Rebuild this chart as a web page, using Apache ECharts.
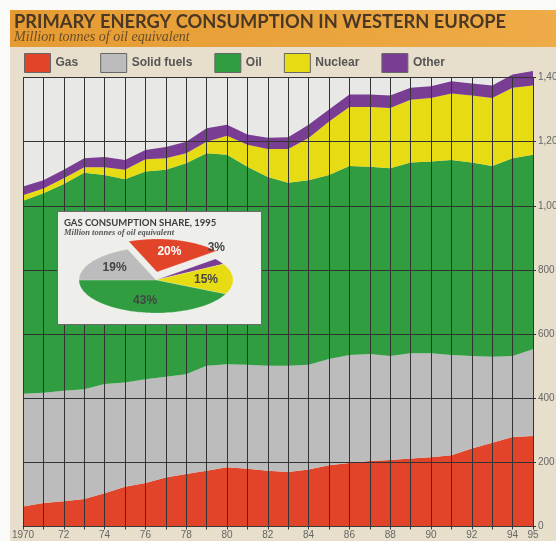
<!DOCTYPE html>
<html>
<head>
<meta charset="utf-8">
<script src="https://cdn.jsdelivr.net/npm/echarts/dist/echarts.min.js"></script>
<style>
  html, body { margin: 0; padding: 0; background: #fff; }
  #main { width: 556px; height: 541px; }
</style>
</head>
<body>
<div id="main"></div>
<script>
// years on the x axis
const years = [1970, 1971, 1972, 1973, 1974, 1975, 1976, 1977, 1978, 1979, 1980, 1981, 1982,
  1983, 1984, 1985, 1986, 1987, 1988, 1989, 1990, 1991, 1992, 1993, 1994, 1995];

// million tonnes of oil equivalent, stacked bottom to top
const gas = [62, 73, 79, 86, 104, 124, 136, 153, 164, 174, 185, 180, 174, 170, 178, 191, 198, 204, 207, 212, 216, 222, 243, 261, 279, 282];
const solidFuels = [352, 344, 344, 342, 340, 325, 323, 314, 311, 327, 321, 324, 327, 331, 326, 331, 337, 334, 325, 328, 324, 313, 289, 268, 253, 271];
const oil = [602, 622, 645, 675, 652, 634, 648, 645, 658, 663, 653, 618, 589, 571, 576, 574, 589, 584, 585, 595, 598, 608, 603, 595, 616, 606];
const nuclear = [17, 15, 18, 17, 24, 29, 38, 36, 31, 36, 59, 68, 87, 105, 131, 167, 184, 186, 188, 196, 198, 207, 209, 212, 220, 216];
const other = [27, 26, 26, 28, 32, 31, 29, 35, 36, 42, 35, 32, 35, 37, 42, 37, 39, 39, 39, 37, 37, 38, 37, 39, 41, 45];

// inset pie: gas consumption share 1995 (%), clockwise from the exploded slice
const pieNames = ['Gas', 'Other', 'Nuclear', 'Oil', 'Solid fuels'];
const pieValues = [20, 3, 15, 43, 19];

const colors = {
  'Gas': '#e2442a',
  'Solid fuels': '#bcbcbc',
  'Oil': '#2f9d40',
  'Nuclear': '#e7db14',
  'Other': '#7a3d94'
};

const chart = echarts.init(document.getElementById('main'));

function areaSeries(name, data) {
  return {
    name: name,
    type: 'line',
    stack: 'total',
    data: data,
    showSymbol: false,
    clip: false,
    lineStyle: { width: 0 },
    itemStyle: { color: colors[name] },
    areaStyle: { color: colors[name], opacity: 1 },
    z: 2
  };
}

// pie drawn as a flattened ellipse
const PIE = { cx: 156, cy: 280, rx: 77, ry: 33, start: -21.6 };
const pieTotal = pieValues.reduce((a, b) => a + b, 0);

function renderSlice(params, api) {
  const i = params.dataIndex;
  let before = 0;
  for (let k = 0; k < i; k++) before += pieValues[k];
  const a0 = PIE.start + before / pieTotal * 360;
  const a1 = a0 + api.value(0) / pieTotal * 360;
  const mid = (a0 + a1) / 2 * Math.PI / 180;
  // first slice is pulled out
  const dx = i === 0 ? 1 : 0;
  const dy = i === 0 ? -8 : 0;
  const cx = PIE.cx + dx, cy = PIE.cy + dy;
  const pts = [[cx, cy]];
  for (let a = a0; a <= a1 + 0.001; a += Math.min(2, a1 - a0)) {
    const r = a * Math.PI / 180;
    pts.push([cx + PIE.rx * Math.sin(r), cy - PIE.ry * Math.cos(r)]);
  }
  const e = a1 * Math.PI / 180;
  pts.push([cx + PIE.rx * Math.sin(e), cy - PIE.ry * Math.cos(e)]);

  let lr = 0.65, la = mid;
  if (api.value(0) < 5) { lr = 1.25; la = mid - 17 * Math.PI / 180; }
  return {
    type: 'group',
    children: [
      {
        type: 'polygon',
        shape: { points: pts },
        style: { fill: colors[pieNames[i]], stroke: 'rgba(255,255,255,0.4)', lineWidth: 0.5 }
      },
      {
        type: 'text',
        style: {
          text: api.value(0) + '%',
          x: cx + PIE.rx * lr * Math.sin(la),
          y: cy - PIE.ry * lr * Math.cos(la),
          align: 'center',
          verticalAlign: 'middle',
          fill: i === 0 ? '#ffffff' : '#454545',
          font: 'bold 12px "Liberation Sans", Arial, sans-serif'
        }
      }
    ]
  };
}

const option = {
  backgroundColor: '#e7dfcb',
  animation: false,
  graphic: [
    // white scan margins
    { type: 'rect', left: 0, top: 0, shape: { width: 556, height: 10 }, style: { fill: '#fafaf8' }, z: 1 },
    { type: 'rect', left: 0, top: 0, shape: { width: 10, height: 541 }, style: { fill: '#fafaf8' }, z: 1 },
    // title banner
    {
      type: 'rect', left: 10, top: 10, shape: { width: 546, height: 37 }, z: 1,
      style: {
        fill: new echarts.graphic.LinearGradient(0, 0, 1, 0, [
          { offset: 0, color: '#e59b32' },
          { offset: 1, color: '#eeab47' }
        ])
      }
    },
    {
      type: 'text', left: 14, top: 13, z: 2,
      style: {
        text: 'PRIMARY ENERGY CONSUMPTION IN WESTERN EUROPE',
        fill: '#4a3724',
        font: 'bold 18.3px Lato, "Open Sans", sans-serif'
      }
    },
    {
      type: 'text', left: 14, top: 30, z: 2,
      style: {
        text: 'Million tonnes of oil equivalent',
        fill: '#6a4c28',
        font: 'italic 14px "Liberation Serif", "DejaVu Serif", serif'
      }
    },
    // inset box
    {
      type: 'rect', left: 57, top: 211, shape: { width: 204, height: 113 }, z: 8,
      style: { fill: '#eeeeea', stroke: '#6b6b6b', lineWidth: 1 }
    },
    {
      type: 'text', left: 64, top: 218, z: 9,
      style: {
        text: 'GAS CONSUMPTION SHARE, 1995',
        fill: '#3d3d3d',
        font: 'bold 9.5px Lato, "Open Sans", sans-serif'
      }
    },
    {
      type: 'text', left: 64, top: 228, z: 9,
      style: {
        text: 'Million tonnes of oil equivalent',
        fill: '#555',
        font: 'italic bold 8.5px "Liberation Serif", "DejaVu Serif", serif'
      }
    }
  ],
  legend: {
    left: 19,
    top: 48,
    itemWidth: 26,
    itemHeight: 19,
    itemGap: 22,
    icon: 'rect',
    itemStyle: { borderColor: '#666', borderWidth: 1 },
    textStyle: {
      color: '#555',
      fontWeight: 'bold',
      fontSize: 12,
      fontFamily: '"Liberation Sans", Arial, sans-serif'
    },
    data: ['Gas', 'Solid fuels', 'Oil', 'Nuclear', 'Other']
  },
  grid: {
    left: 23,
    right: 23,
    top: 77.5,
    bottom: 14.5,
    outerBoundsMode: 'none',
    containLabel: false,
    show: true,
    backgroundColor: '#e8e8e6',
    borderWidth: 0
  },
  xAxis: {
    type: 'category',
    boundaryGap: false,
    data: years,
    z: 5,
    axisLine: { lineStyle: { color: '#3a3a3a', width: 1 } },
    axisTick: { show: true, interval: 0, length: 3, lineStyle: { color: '#3a3a3a' } },
    splitLine: { show: true, interval: 0, lineStyle: { color: '#333', width: 1 } },
    axisLabel: {
      interval: (i) => i % 2 === 0 || i === years.length - 1,
      formatter: (v) => (v === '1970' || v === 1970) ? '1970' : String(v).slice(2),
      alignMinLabel: 'center',
      alignMaxLabel: 'center',
      color: '#666',
      fontSize: 10,
      margin: 4,
      fontFamily: '"Liberation Sans", Arial, sans-serif'
    }
  },
  yAxis: {
    type: 'value',
    position: 'right',
    min: 0,
    max: 1400,
    interval: 200,
    z: 5,
    axisLine: { show: true, lineStyle: { color: '#333', width: 1 } },
    axisTick: { show: true, length: 3, lineStyle: { color: '#333' } },
    splitLine: { show: true, lineStyle: { color: '#333', width: 1 } },
    axisLabel: {
      color: '#666',
      fontSize: 10,
      margin: 5,
      fontFamily: '"Liberation Sans", Arial, sans-serif',
      formatter: (v) => v.toLocaleString('en-US')
    }
  },
  series: [
    areaSeries('Gas', gas),
    areaSeries('Solid fuels', solidFuels),
    areaSeries('Oil', oil),
    areaSeries('Nuclear', nuclear),
    areaSeries('Other', other),
    {
      name: 'share',
      type: 'custom',
      coordinateSystem: 'none',
      data: pieValues,
      renderItem: renderSlice,
      z: 10,
      silent: true
    }
  ]
};

chart.setOption(option);
</script>
</body>
</html>
